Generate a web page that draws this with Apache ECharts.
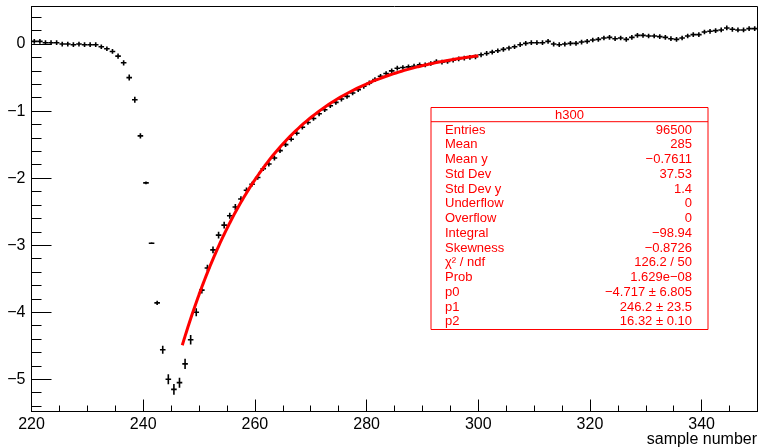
<!DOCTYPE html>
<html>
<head>
<meta charset="utf-8">
<script src="https://cdn.jsdelivr.net/npm/echarts@6/dist/echarts.min.js"></script>
<style>
html,body{margin:0;padding:0;background:#fff;}
#chart{width:760px;height:448px;}
</style>
</head>
<body>
<div id="chart"></div>
<script>
// Histogram h300: bins of width 1 starting at 220
const binLow = 220;
const binWidth = 1;
const binValues = [
  0.04, 0.04, 0.02, 0.02, 0.02, 0.00, 0.00, -0.01, 0.00, -0.01,
  -0.01, -0.01, -0.04, -0.07, -0.11, -0.18, -0.28, -0.50, -0.83, -1.37,
  -2.07, -2.97, -3.86, -4.56, -5.00, -5.15, -5.05, -4.77, -4.41, -4.00,
  -3.67, -3.34, -3.07, -2.85, -2.70, -2.56, -2.43, -2.31, -2.18, -2.09,
  -1.99, -1.86, -1.79, -1.70, -1.59, -1.50, -1.42, -1.33, -1.24, -1.17,
  -1.11, -1.04, -0.98, -0.92, -0.87, -0.82, -0.78, -0.73, -0.68, -0.63,
  -0.58, -0.53, -0.48, -0.44, -0.40, -0.36, -0.35, -0.34, -0.33, -0.31,
  -0.31, -0.29, -0.26, -0.27, -0.26, -0.24, -0.22, -0.21, -0.20, -0.19,
  -0.16, -0.14, -0.12, -0.10, -0.08, -0.06, -0.04, -0.01, 0.01, 0.02,
  0.02, 0.02, 0.04, 0.00, -0.01, 0.00, 0.01, 0.01, 0.03, 0.04,
  0.06, 0.07, 0.09, 0.10, 0.08, 0.09, 0.07, 0.10, 0.13, 0.13,
  0.12, 0.12, 0.11, 0.10, 0.08, 0.07, 0.09, 0.12, 0.14, 0.14,
  0.18, 0.19, 0.20, 0.21, 0.24, 0.22, 0.21, 0.21, 0.23, 0.23
];
const binErrors = [
  0.035, 0.035, 0.035, 0.035, 0.035, 0.035, 0.035, 0.035, 0.035, 0.035,
  0.035, 0.035, 0.035, 0.035, 0.035, 0.04, 0.04, 0.045, 0.045, 0.04,
  0.02, 0.01, 0.03, 0.06, 0.075, 0.08, 0.075, 0.075, 0.07, 0.06,
  0.05, 0.05, 0.05, 0.05, 0.05, 0.045, 0.045, 0.04, 0.04, 0.035,
  0.035, 0.035, 0.035, 0.035, 0.035, 0.035, 0.035, 0.035, 0.035, 0.035,
  0.035, 0.035, 0.035, 0.035, 0.035, 0.035, 0.035, 0.035, 0.035, 0.035,
  0.035, 0.035, 0.035, 0.035, 0.035, 0.035, 0.035, 0.035, 0.035, 0.035,
  0.035, 0.035, 0.035, 0.035, 0.035, 0.035, 0.035, 0.035, 0.035, 0.035,
  0.035, 0.035, 0.035, 0.035, 0.035, 0.035, 0.035, 0.035, 0.035, 0.035,
  0.035, 0.035, 0.035, 0.035, 0.035, 0.035, 0.035, 0.035, 0.035, 0.035,
  0.035, 0.035, 0.035, 0.035, 0.035, 0.035, 0.035, 0.035, 0.035, 0.035,
  0.035, 0.035, 0.035, 0.035, 0.035, 0.035, 0.035, 0.035, 0.035, 0.035,
  0.035, 0.035, 0.035, 0.035, 0.035, 0.035, 0.035, 0.035, 0.035, 0.035
];

// Fit: p0 * exp(-(x - p1) / p2) over the fit range
const fitParams = [-4.717, 246.2, 16.32];
const fitRange = [247, 300];

// Axis ticks
const xRange = [220, 350];
const yRange = [-5.48, 0.56];
const xMajorTicks = [220, 240, 260, 280, 300, 320, 340];
const xMinorTicks = [225, 230, 235, 245, 250, 255, 265, 270, 275, 285, 290, 295, 305, 310, 315, 325, 330, 335, 345];
const yMajorTicks = [-5, -4, -3, -2, -1, 0];
const yMinorTicks = [-5.4, -5.2, -4.8, -4.6, -4.4, -4.2, -3.8, -3.6, -3.4, -3.2, -2.8, -2.6, -2.4, -2.2,
                     -1.8, -1.6, -1.4, -1.2, -0.8, -0.6, -0.4, -0.2, 0.2, 0.4];
const xTitle = 'sample number';

// Stats box
const statsTitle = 'h300';
const statsLabels = ['Entries', 'Mean', 'Mean y', 'Std Dev', 'Std Dev y', 'Underflow', 'Overflow',
                     'Integral', 'Skewness', 'χ² / ndf', 'Prob', 'p0', 'p1', 'p2'];
const statsValues = ['96500', '285', '−0.7611', '37.53', '1.4', '0', '0',
                     '−98.94', '−0.8726', '126.2 / 50', '1.629e−08', '−4.717 ± 6.805', '246.2 ± 23.5', '16.32 ± 0.10'];

// ---- build series data ----
const histData = binValues.map((v, i) => [binLow + (i + 0.5) * binWidth, v, binErrors[i]]);
const fitData = [];
for (let x = fitRange[0]; x <= fitRange[1] + 1e-9; x += 0.25) {
  fitData.push([x, fitParams[0] * Math.exp(-(x - fitParams[1]) / fitParams[2])]);
}

const FONT = '"Liberation Sans", Arial, Helvetica, sans-serif';
const RED = '#ff0000';
const minus = s => String(s).replace('-', '\u2212');

const chart = echarts.init(document.getElementById('chart'), null, {renderer: 'canvas'});

// stats box graphic
const boxL = 431, boxT = 107.5, boxW = 277, boxH = 222, titleH = 14.2;
const rowTop = 130, rowStep = 14.75;
const gfx = [
  {type: 'rect', shape: {x: boxL, y: boxT, width: boxW, height: boxH},
   style: {fill: '#fff', stroke: RED, lineWidth: 1}, z: 100},
  {type: 'line', shape: {x1: boxL, y1: boxT + titleH, x2: boxL + boxW, y2: boxT + titleH},
   style: {stroke: RED, lineWidth: 1}, z: 101},
  {type: 'text', x: boxL + boxW / 2, y: boxT + titleH / 2 + 0.5,
   style: {text: statsTitle, fill: RED, font: '13px ' + FONT, align: 'center', verticalAlign: 'middle'}, z: 101}
];
statsLabels.forEach((lab, i) => {
  gfx.push({type: 'text', x: 445, y: rowTop + i * rowStep,
    style: {text: lab, fill: RED, font: '13px ' + FONT, align: 'left', verticalAlign: 'middle'}, z: 101});
  gfx.push({type: 'text', x: 692, y: rowTop + i * rowStep,
    style: {text: statsValues[i], fill: RED, font: '13px ' + FONT, align: 'right', verticalAlign: 'middle'}, z: 101});
});
gfx.push({type: 'text', x: 757, y: 440,
  style: {text: xTitle, fill: '#000', font: '16px ' + FONT, align: 'right', verticalAlign: 'middle'}, z: 101});

const axisCommon = {
  type: 'value',
  splitLine: {show: false},
  scale: true
};

chart.setOption({
  animation: false,
  backgroundColor: '#fff',
  grid: {left: 31.5, right: 2.5, top: 6.5, bottom: 36.5, containLabel: false, outerBoundsMode: 'none',
         show: true, borderColor: '#000', borderWidth: 1},
  xAxis: [
    Object.assign({}, axisCommon, {
      min: xRange[0], max: xRange[1], position: 'bottom',
      axisLine: {show: true, onZero: false, lineStyle: {color: '#000', width: 1}},
      axisTick: {show: true, inside: true, length: 12, customValues: xMajorTicks, lineStyle: {color: '#000', width: 1}},
      axisLabel: {show: true, customValues: xMajorTicks, color: '#000', fontSize: 16, fontFamily: FONT, margin: 5,
                  formatter: v => minus(v)}
    }),
    Object.assign({}, axisCommon, {
      min: xRange[0], max: xRange[1], position: 'bottom', offset: 0,
      axisLine: {show: false, onZero: false},
      axisTick: {show: true, inside: true, length: 6, customValues: xMinorTicks, lineStyle: {color: '#000', width: 1}},
      axisLabel: {show: false}
    })
  ],
  yAxis: [
    Object.assign({}, axisCommon, {
      min: yRange[0], max: yRange[1], position: 'left',
      axisLine: {show: true, onZero: false, lineStyle: {color: '#000', width: 1}},
      axisTick: {show: true, inside: true, length: 20, customValues: yMajorTicks, lineStyle: {color: '#000', width: 1}},
      axisLabel: {show: true, customValues: yMajorTicks, color: '#000', fontSize: 16, fontFamily: FONT, margin: 6,
                  formatter: v => minus(v)}
    }),
    Object.assign({}, axisCommon, {
      min: yRange[0], max: yRange[1], position: 'left', offset: 0,
      axisLine: {show: false, onZero: false},
      axisTick: {show: true, inside: true, length: 10, customValues: yMinorTicks, lineStyle: {color: '#000', width: 1}},
      axisLabel: {show: false}
    })
  ],
  graphic: gfx,
  series: [
    {
      type: 'custom',
      name: 'h300',
      xAxisIndex: 0, yAxisIndex: 0,
      clip: true,
      z: 3,
      data: histData,
      renderItem: function (params, api) {
        const x = api.value(0), y = api.value(1), e = api.value(2);
        const pl = api.coord([x - binWidth / 2, y]);
        const pr = api.coord([x + binWidth / 2, y]);
        const pt = api.coord([x, y + e]);
        const pb = api.coord([x, y - e]);
        return {
          type: 'group',
          children: [
            {type: 'line', shape: {x1: pl[0], y1: pl[1], x2: pr[0], y2: pr[1]},
             style: {stroke: '#000', lineWidth: 1.6}},
            {type: 'line', shape: {x1: pt[0], y1: pt[1], x2: pb[0], y2: pb[1]},
             style: {stroke: '#000', lineWidth: 1.6}}
          ]
        };
      }
    },
    {
      type: 'line',
      name: 'fit',
      xAxisIndex: 0, yAxisIndex: 0,
      data: fitData,
      showSymbol: false,
      smooth: false,
      z: 5,
      lineStyle: {color: RED, width: 3}
    }
  ]
});
</script>
</body>
</html>
